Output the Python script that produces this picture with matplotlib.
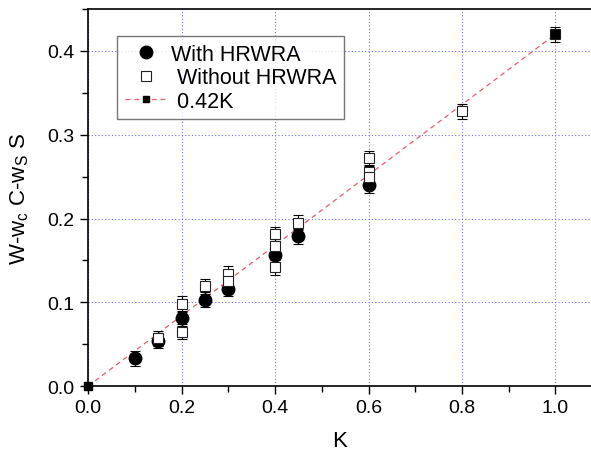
import matplotlib
matplotlib.use("Agg")
import matplotlib.pyplot as plt
from matplotlib.ticker import MultipleLocator
from matplotlib.lines import Line2D

plt.rcParams['font.family'] = ['Liberation Sans', 'DejaVu Sans']
plt.rcParams['mathtext.default'] = 'regular'

# Data
with_k = [0.1, 0.15, 0.2, 0.25, 0.3, 0.4, 0.45, 0.6]
with_v = [0.033, 0.054, 0.081, 0.103, 0.116, 0.157, 0.179, 0.240]
with_err = [0.009] * len(with_k)

without_k = [0.15, 0.2, 0.2, 0.25, 0.3, 0.3, 0.4, 0.4, 0.4, 0.45, 0.6, 0.6, 0.6, 0.8, 1.0]
without_v = [0.057, 0.098, 0.065, 0.119, 0.134, 0.126, 0.181, 0.167, 0.142, 0.195,
             0.272, 0.255, 0.249, 0.328, 0.420]
without_err = [0.009] * len(without_k)

fit_k = [0.0, 1.0]
fit_v = [0.0, 0.42]

fig = plt.figure(figsize=(5.91, 4.56), dpi=100)
ax = fig.add_axes([0.149, 0.151, 0.851, 0.827])

ax.grid(True, which='major', color='#7070ee', linestyle=(0, (1, 2)), linewidth=0.8)
ax.set_axisbelow(True)

ax.plot(fit_k, fit_v, linestyle=(0, (4, 3)), color='#e06070', linewidth=0.9,
        zorder=2, clip_on=False)
ax.plot(fit_k, fit_v, linestyle='none', marker='s', markersize=5.5,
        markerfacecolor='black', markeredgecolor='black', zorder=5, clip_on=False)

ax.errorbar(with_k, with_v, yerr=with_err, fmt='o', color='black', markersize=9,
            markerfacecolor='black', markeredgecolor='black', ecolor='black',
            elinewidth=0.8, capsize=3.5, capthick=0.8, zorder=3)

ax.errorbar(without_k, without_v, yerr=without_err, fmt='s', markersize=7.5,
            markerfacecolor='white', markeredgecolor='#222222', markeredgewidth=0.8,
            ecolor='black', elinewidth=0.8, capsize=3.5, capthick=0.8, zorder=4)

ax.set_xlim(0, 1.076)
ax.set_ylim(0, 0.45)
ax.xaxis.set_major_locator(MultipleLocator(0.2))
ax.xaxis.set_minor_locator(MultipleLocator(0.1))
ax.yaxis.set_major_locator(MultipleLocator(0.1))
ax.yaxis.set_minor_locator(MultipleLocator(0.05))
ax.tick_params(which='major', direction='out', length=6, width=1, labelsize=14)
ax.tick_params(which='minor', direction='out', length=4, width=1)
ax.xaxis.set_major_formatter(plt.FuncFormatter(lambda v, p: f"{v:.1f}"))
ax.yaxis.set_major_formatter(plt.FuncFormatter(lambda v, p: f"{v:.1f}"))
ax.spines['right'].set_visible(False)
for s in ['left', 'bottom', 'top']:
    ax.spines[s].set_linewidth(1.2)

ax.set_xlabel('K', fontsize=16, labelpad=10)
ax.set_ylabel('W-w$_c$ C-w$_S$ S', fontsize=16, labelpad=12)

handles = [
    Line2D([], [], linestyle='none', marker='o', markersize=9,
           markerfacecolor='black', markeredgecolor='black'),
    Line2D([], [], linestyle='none', marker='s', markersize=7.5,
           markerfacecolor='white', markeredgecolor='#222222', markeredgewidth=0.8),
    Line2D([], [], linestyle=(0, (4, 3)), color='#e06070', linewidth=0.9,
           marker='s', markersize=5, markerfacecolor='black', markeredgecolor='black'),
]
labels = ['With HRWRA', ' Without HRWRA', ' 0.42K']
leg = ax.legend(handles, labels, loc='upper left', bbox_to_anchor=(0.058, 0.928),
                borderaxespad=0, fontsize=15.5, frameon=True, fancybox=False,
                edgecolor='#555555', handlelength=2.0, borderpad=0.35,
                labelspacing=0.12, handletextpad=0.15)
leg.get_frame().set_linewidth(1.0)

fig.savefig('out.png', dpi=100)
